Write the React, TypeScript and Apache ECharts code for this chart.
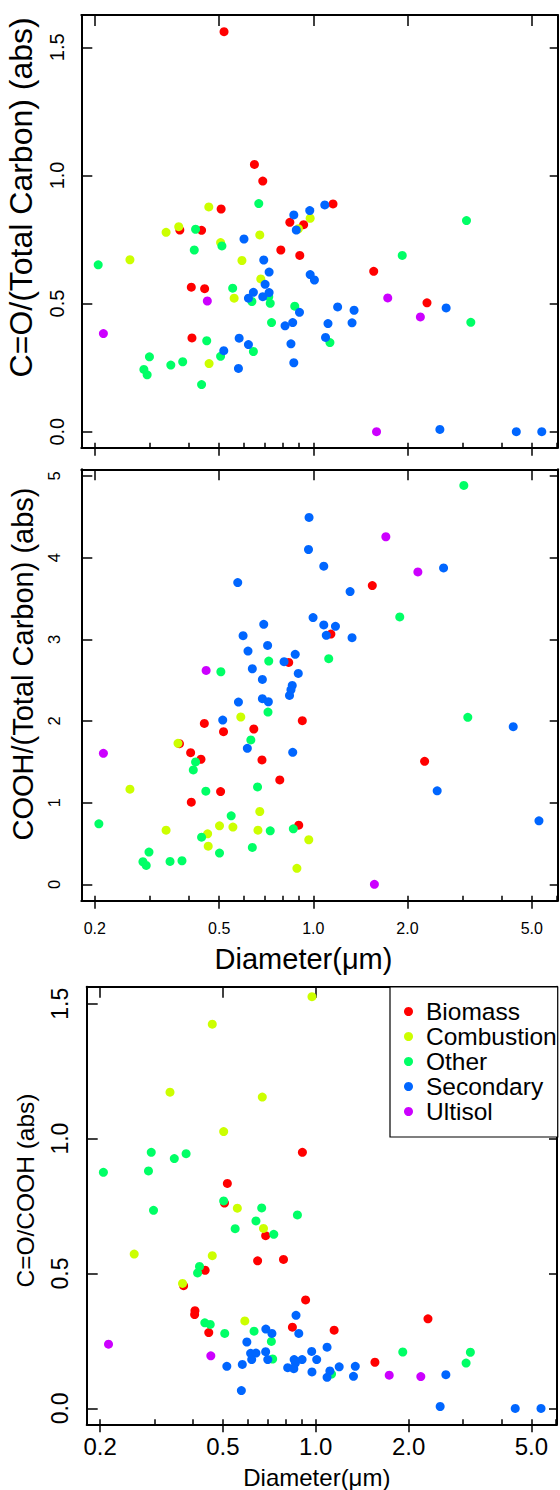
import React, { useEffect, useRef } from 'react';
import * as echarts from 'echarts';

const FONT = '"Liberation Sans", Arial, Helvetica, sans-serif';

const categories = ['Biomass', 'Combustion', 'Other', 'Secondary', 'Ultisol'];
const palette = ['#FF0000', '#CCFF00', '#00FF66', '#0066FF', '#CC00FF'];

const diameterMajorTicks = [0.2, 0.5, 1, 2, 5];
const diameterMinorTicks = [0.3, 0.4, 0.6, 0.7, 0.8, 0.9, 3, 4, 6];
const diameterRange = [0.181, 6.05];

const coTcTicks = [0, 0.5, 1, 1.5];
const coohTcTicks = [0, 1, 2, 3, 4, 5];
const ratioTicks = [0, 0.5, 1, 1.5];

// ---- Panel 1: C=O/(Total Carbon) (abs), [diameter, value]
const coTcBiomass = [[0.518,1.561],[0.648,1.043],[0.689,0.978],[0.507,0.869],[1.156,0.889],[0.841,0.817],[0.931,0.808],[0.374,0.787],[0.439,0.786],[0.787,0.709],[0.905,0.688],[1.56,0.626],[0.407,0.564],[0.449,0.558],[2.31,0.503],[0.409,0.366]];
const coTcCombustion = [[0.463,0.877],[0.977,0.833],[0.896,0.792],[0.338,0.778],[0.371,0.800],[0.674,0.768],[0.505,0.738],[0.259,0.671],[0.591,0.668],[0.679,0.596],[0.558,0.521],[0.464,0.266]];
const coTcOther = [[0.669,0.890],[3.09,0.824],[0.420,0.790],[0.510,0.725],[0.416,0.709],[0.205,0.651],[1.925,0.688],[0.552,0.560],[0.720,0.527],[0.636,0.508],[0.728,0.501],[0.872,0.490],[3.19,0.427],[0.735,0.426],[0.456,0.355],[1.13,0.348],[0.643,0.313],[0.299,0.292],[0.505,0.294],[0.350,0.260],[0.382,0.273],[0.287,0.243],[0.294,0.222],[0.439,0.184]];
const coTcSecondary = [[1.088,0.885],[0.866,0.846],[0.974,0.863],[0.882,0.787],[0.600,0.752],[0.694,0.670],[0.722,0.623],[0.977,0.613],[1.008,0.592],[0.701,0.575],[0.643,0.544],[0.722,0.543],[0.620,0.521],[0.689,0.527],[0.903,0.466],[1.196,0.487],[1.35,0.474],[2.66,0.483],[0.812,0.413],[0.859,0.426],[1.114,0.422],[1.33,0.425],[0.579,0.365],[1.094,0.368],[0.620,0.340],[0.848,0.343],[0.517,0.316],[0.866,0.269],[0.576,0.247],[2.54,0.009],[4.46,0],[5.38,0]];
const coTcUltisol = [[0.458,0.510],[1.73,0.522],[2.20,0.448],[0.213,0.383],[1.593,0]];

// ---- Panel 2: COOH/(Total Carbon) (abs)
const coohTcBiomass = [[1.544,3.658],[1.138,3.065],[0.834,2.718],[0.448,1.971],[0.922,2.004],[0.516,1.870],[0.645,1.902],[0.373,1.723],[0.405,1.613],[0.437,1.532],[0.685,1.523],[2.27,1.507],[0.781,1.279],[0.505,1.136],[0.407,1.006],[0.898,0.725]];
const coohTcCombustion = [[0.586,2.049],[0.369,1.727],[0.259,1.165],[0.674,0.892],[0.501,0.717],[0.553,0.701],[0.338,0.664],[0.459,0.619],[0.665,0.664],[0.967,0.546],[0.461,0.468],[0.886,0.196]];
const coohTcOther = [[3.03,4.885],[1.89,3.274],[0.72,2.734],[1.12,2.763],[0.506,2.603],[0.716,2.11],[3.12,2.045],[0.631,1.768],[0.420,1.499],[0.413,1.401],[0.453,1.141],[0.663,1.193],[0.546,0.839],[0.206,0.741],[0.439,0.578],[0.728,0.656],[0.863,0.680],[0.638,0.452],[0.298,0.395],[0.501,0.383],[0.285,0.277],[0.292,0.232],[0.348,0.281],[0.380,0.289]];
const coohTcSecondary = [[0.969,4.493],[0.965,4.100],[1.08,3.896],[2.61,3.875],[0.573,3.695],[1.311,3.585],[0.998,3.266],[0.694,3.184],[1.08,3.176],[1.177,3.16],[0.596,3.045],[1.10,3.049],[1.33,3.02],[0.714,2.926],[0.618,2.857],[0.875,2.816],[0.806,2.726],[0.638,2.64],[0.895,2.583],[0.687,2.509],[0.856,2.436],[0.848,2.382],[0.839,2.313],[0.576,2.232],[0.687,2.273],[0.718,2.236],[0.513,2.012],[4.36,1.931],[0.615,1.666],[0.859,1.617],[2.49,1.145],[5.27,0.778]];
const coohTcUltisol = [[0.454,2.620],[1.706,4.256],[2.16,3.826],[0.213,1.605],[1.568,0]];

// ---- Panel 3: C=O/COOH (abs)
const ratioBiomass = [[0.905,0.949],[0.517,0.834],[0.506,0.761],[0.688,0.640],[0.648,0.547],[0.786,0.552],[0.438,0.512],[0.373,0.455],[0.927,0.402],[0.406,0.362],[0.405,0.348],[2.31,0.332],[0.840,0.301],[1.147,0.290],[0.450,0.281],[1.555,0.171]];
const ratioCombustion = [[0.972,1.526],[0.462,1.424],[0.337,1.172],[0.671,1.154],[0.503,1.026],[0.557,0.742],[0.677,0.667],[0.258,0.572],[0.462,0.566],[0.370,0.463],[0.589,0.324]];
const ratioOther = [[0.293,0.949],[0.380,0.944],[0.348,0.926],[0.205,0.875],[0.287,0.880],[0.503,0.769],[0.298,0.734],[0.668,0.743],[0.872,0.717],[0.640,0.695],[0.548,0.666],[0.731,0.645],[0.420,0.526],[0.414,0.502],[0.437,0.317],[0.455,0.311],[0.631,0.286],[0.507,0.278],[0.718,0.248],[1.914,0.209],[3.17,0.208],[0.725,0.183],[1.125,0.127],[3.07,0.168]];
const ratioSecondary = [[0.863,0.345],[0.689,0.294],[0.721,0.278],[0.881,0.278],[0.598,0.246],[1.088,0.227],[0.615,0.204],[0.640,0.205],[0.688,0.210],[0.970,0.211],[0.620,0.181],[0.699,0.181],[0.851,0.181],[0.903,0.181],[1.007,0.181],[0.859,0.168],[0.515,0.156],[0.578,0.163],[0.811,0.151],[0.849,0.147],[0.972,0.135],[1.191,0.154],[1.343,0.156],[1.111,0.139],[1.088,0.115],[1.325,0.119],[2.64,0.125],[0.574,0.066],[2.53,0.007],[4.43,0],[5.37,0]];
const ratioUltisol = [[0.213,0.238],[0.457,0.195],[1.73,0.123],[2.19,0.118]];

const panels = [
  {
    grid: { left: 81.3, top: 15, width: 476.4, height: 432.7 },
    yRange: [-0.0624, 1.626], yTicks: coTcTicks, yDigits: 1,
    yLabelSize: 20, yLabelMargin: 14,
    yName: 'C=O/(Total Carbon) (abs)', yNameSize: 32, yNameGap: 44, yNameShift: 68,
    xLabels: false, xLabelSize: 16, xLabelMargin: 20, xName: '', xNameSize: 29, xNameGap: 44, xNameShift: 0,
    series: [coTcBiomass, coTcCombustion, coTcOther, coTcSecondary, coTcUltisol],
  },
  {
    grid: { left: 81.3, top: 469.3, width: 476.4, height: 431.4 },
    yRange: [-0.2, 5.082], yTicks: coohTcTicks, yDigits: 0,
    yLabelSize: 16.5, yLabelMargin: 19,
    yName: 'COOH/(Total Carbon) (abs)', yNameSize: 29, yNameGap: 44, yNameShift: 42,
    xLabels: true, xLabelSize: 16, xLabelMargin: 20, xName: 'Diameter(\u03bcm)', xNameSize: 29, xNameGap: 44, xNameShift: 32,
    series: [coohTcBiomass, coohTcCombustion, coohTcOther, coohTcSecondary, coohTcUltisol],
  },
  {
    grid: { left: 86.7, top: 986.7, width: 470.3, height: 437.6 },
    yRange: [-0.059, 1.563], yTicks: ratioTicks, yDigits: 1,
    yLabelSize: 23, yLabelMargin: 15,
    yName: 'C=O/COOH (abs)', yNameSize: 24.5, yNameGap: 49, yNameShift: 30,
    xLabels: true, xLabelSize: 24, xLabelMargin: 10, xName: 'Diameter(\u03bcm)', xNameSize: 24, xNameGap: 41, xNameShift: 10,
    series: [ratioBiomass, ratioCombustion, ratioOther, ratioSecondary, ratioUltisol],
  },
];

function buildOption() {
  const grids: any[] = [];
  const xAxes: any[] = [];
  const yAxes: any[] = [];
  const series: any[] = [];
  const frame = { show: true, onZero: false, lineStyle: { color: '#000', width: 2 } };
  const noLine = { show: false, onZero: false };
  const tickStyle = { color: '#000', width: 1.5 };

  panels.forEach((p, pi) => {
    grids.push({ ...p.grid, containLabel: false, outerBoundsMode: 'none', show: false });
    const xBase = {
      type: 'log', logBase: 10, gridIndex: pi, min: diameterRange[0], max: diameterRange[1],
      splitLine: { show: false }, minorTick: { show: false }, minorSplitLine: { show: false },
      silent: true, nameMoveOverlap: false,
    };
    xAxes.push({
      ...xBase, position: 'bottom', axisLine: frame,
      axisTick: { show: true, inside: true, length: 5, lineStyle: tickStyle, customValues: [...diameterMajorTicks, ...diameterMinorTicks] },
      axisLabel: {
        show: p.xLabels, customValues: diameterMajorTicks, margin: p.xLabelMargin,
        fontSize: p.xLabelSize, color: '#000', fontFamily: FONT,
        formatter: (v: number) => Number(v).toFixed(1),
      },
      name: p.xName, nameLocation: 'middle', nameGap: p.xNameGap,
      nameTextStyle: { fontSize: p.xNameSize, color: '#000', fontFamily: FONT, padding: [0, p.xNameShift, 0, 0] },
    });
    xAxes.push({
      ...xBase, position: 'bottom', axisLine: noLine,
      axisTick: { show: true, inside: false, length: 8, lineStyle: tickStyle, customValues: diameterMajorTicks },
      axisLabel: { show: false },
    });
    xAxes.push({
      ...xBase, position: 'top', axisLine: frame,
      axisTick: { show: true, inside: true, length: 11, lineStyle: tickStyle, customValues: diameterMajorTicks },
      axisLabel: { show: false },
    });

    const fmt = (v: number) => Number(v).toFixed(p.yDigits);
    yAxes.push({
      type: 'value', gridIndex: pi, position: 'left', min: p.yRange[0], max: p.yRange[1],
      splitLine: { show: false }, axisLine: frame, silent: true, nameMoveOverlap: false,
      axisTick: { show: true, inside: true, length: 11, lineStyle: tickStyle, customValues: p.yTicks },
      axisLabel: {
        show: true, customValues: p.yTicks, rotate: 90, margin: p.yLabelMargin,
        fontSize: p.yLabelSize, color: '#000', fontFamily: FONT, formatter: fmt,
      },
      name: p.yName, nameLocation: 'middle', nameGap: p.yNameGap, nameRotate: 90,
      nameTextStyle: { fontSize: p.yNameSize, color: '#000', fontFamily: FONT, padding: [0, 0, 0, p.yNameShift] },
    });
    yAxes.push({
      type: 'value', gridIndex: pi, position: 'right', min: p.yRange[0], max: p.yRange[1],
      splitLine: { show: false }, axisLine: frame, silent: true,
      axisTick: { show: true, inside: true, length: 8, lineStyle: tickStyle, customValues: p.yTicks },
      axisLabel: { show: false },
    });

    p.series.forEach((data, ci) => {
      series.push({
        type: 'scatter', name: categories[ci], xAxisIndex: pi * 3, yAxisIndex: pi * 2,
        data, symbol: 'circle', symbolSize: 9, silent: true,
        itemStyle: { color: palette[ci], opacity: 1, borderWidth: 0 },
        emphasis: { disabled: true }, z: 2 + ci,
      });
    });
  });

  return {
    animation: false,
    backgroundColor: '#fff',
    textStyle: { fontFamily: FONT },
    grid: grids,
    xAxis: xAxes,
    yAxis: yAxes,
    series,
    legend: {
      data: categories, orient: 'vertical', left: 390, top: 987,
      icon: 'circle', itemWidth: 9, itemHeight: 9, itemGap: 0,
      padding: [12, 1, 13, 14], borderColor: '#000', borderWidth: 1.2, backgroundColor: '#fff',
      selectedMode: false, z: 10,
      textStyle: { fontSize: 24.5, lineHeight: 25, color: '#000', fontFamily: FONT, padding: [0, 0, 0, 8] },
    },
  };
}

export default function App() {
  const ref = useRef<HTMLDivElement>(null);
  useEffect(() => {
    if (!ref.current) return;
    const chart = echarts.init(ref.current, null, { renderer: 'svg' });
    chart.setOption(buildOption() as any);
    return () => chart.dispose();
  }, []);
  return (
    <div
      ref={ref}
      style={{ position: 'absolute', left: 0, top: 0, width: 560, height: 1490, background: '#fff' }}
    />
  );
}
